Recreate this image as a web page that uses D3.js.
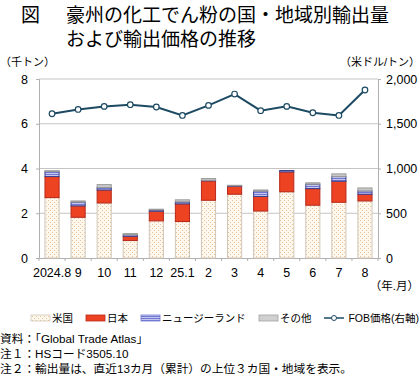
<!DOCTYPE html>
<html>
<head>
<meta charset="utf-8">
<script src="https://d3js.org/d3.v7.min.js"></script>
<style>
  body { margin: 0; background: #fff; }
  svg text { font-family: "Liberation Sans", "Noto Sans CJK JP", sans-serif; fill: #000; }
</style>
</head>
<body>
<div id="chart"></div>
<script>
// data (thousand tons / USD per ton)
const months = ["2024.8", "9", "10", "11", "12", "25.1", "2", "3", "4", "5", "6", "7", "8"];
const usa   = [2.70, 1.82, 2.46, 0.78, 1.66, 1.63, 2.58, 2.85, 2.10, 2.96, 2.36, 2.49, 2.55];
const japan = [0.94, 0.51, 0.58, 0.19, 0.43, 0.79, 0.87, 0.36, 0.65, 0.89, 0.74, 0.94, 0.30];
const nz    = [0.23, 0.17, 0.11, 0.07, 0.06, 0.09, 0.02, 0.02, 0.24, 0.06, 0.20, 0.21, 0.15];
const other = [0.03, 0.05, 0.13, 0.05, 0.03, 0.09, 0.08, 0.02, 0.05, 0.00, 0.06, 0.12, 0.13];
const fob   = [1612, 1660, 1694, 1713, 1687, 1593, 1705, 1832, 1646, 1694, 1623, 1593, 1877];
const leftTicks = [0, 2, 4, 6, 8];
const rightTicks = [0, 500, 1000, 1500, 2000];

const series = [
  { key: "米国", values: usa, fill: "url(#patUS)", stroke: "#cfc6ba" },
  { key: "日本", values: japan, fill: "#ee4322", stroke: "#b8281a" },
  { key: "ニュージーランド", values: nz, fill: "url(#patNZ)", stroke: "#39418f" },
  { key: "その他", values: other, fill: "#c8c8c8", stroke: "#9a9a9a" }
];

const W = 420, H = 378;
const svg = d3.select("#chart").append("svg").attr("width", W).attr("height", H);

const defs = svg.append("defs");
const pUS = defs.append("pattern").attr("id", "patUS").attr("patternUnits", "userSpaceOnUse")
  .attr("width", 4).attr("height", 4);
pUS.append("rect").attr("width", 4).attr("height", 4).attr("fill", "#fef8ef");
pUS.append("rect").attr("x", 0).attr("y", 0).attr("width", 1).attr("height", 1).attr("fill", "#ecc193");
pUS.append("rect").attr("x", 2).attr("y", 2).attr("width", 1).attr("height", 1).attr("fill", "#ecc193");
const pNZ = defs.append("pattern").attr("id", "patNZ").attr("patternUnits", "userSpaceOnUse")
  .attr("width", 2).attr("height", 2);
pNZ.append("rect").attr("width", 2).attr("height", 2).attr("fill", "#c4c6f0");
pNZ.append("rect").attr("width", 2).attr("height", 1).attr("fill", "#7378d0");

const plotL = 39, plotR = 378, plotT = 79, plotB = 258;
const x = d3.scaleBand().domain(months).range([plotL, plotR]).paddingInner(0.42).paddingOuter(0.21);
const y = d3.scaleLinear().domain([0, 8]).range([plotB, plotT]);
const y2 = d3.scaleLinear().domain([0, 2000]).range([plotB, plotT]);

// title
svg.append("text").attr("x", 21).attr("y", 22).attr("font-size", 19).text("図");
svg.append("text").attr("x", 66).attr("y", 22).attr("font-size", 19).text("豪州の化工でん粉の国・地域別輸出量");
svg.append("text").attr("x", 66).attr("y", 46).attr("font-size", 19).text("および輸出価格の推移");

// unit labels
svg.append("text").attr("x", 0).attr("y", 66).attr("font-size", 11).text("（千トン）");
svg.append("text").attr("x", 420).attr("y", 66).attr("font-size", 11).attr("text-anchor", "end").text("（米ドル/トン）");

// gridlines
svg.append("g").selectAll("line").data(leftTicks.filter(d => d > 0)).join("line")
  .attr("x1", plotL).attr("x2", plotR)
  .attr("y1", d => y(d)).attr("y2", d => y(d))
  .attr("stroke", "#c4c4c4").attr("stroke-width", 1);

// axes
const axL = svg.append("g").attr("transform", `translate(${plotL},0)`)
  .call(d3.axisLeft(y).tickValues(leftTicks).tickSize(3).tickPadding(8).tickFormat(d3.format("d")));
const axR = svg.append("g").attr("transform", `translate(${plotR},0)`)
  .call(d3.axisRight(y2).tickValues(rightTicks).tickSize(3).tickPadding(5).tickFormat(d3.format(",")));
[axL, axR].forEach(a => {
  a.select(".domain").attr("stroke", "#b0b0b0");
  a.selectAll(".tick line").attr("stroke", "#b0b0b0");
  a.selectAll("text").attr("font-size", 12.5);
});

const axB = svg.append("g").attr("transform", `translate(0,${plotB})`)
  .call(d3.axisBottom(x).tickSize(0).tickPadding(10));
axB.select(".domain").attr("stroke", "#b0b0b0");
axB.selectAll("text").attr("font-size", 12.5);
// band boundary ticks
const bounds = d3.range(months.length + 1).map(i => plotL + i * (plotR - plotL) / months.length);
svg.append("g").selectAll("line").data(bounds).join("line")
  .attr("x1", d => d).attr("x2", d => d).attr("y1", plotB).attr("y2", plotB + 3)
  .attr("stroke", "#b0b0b0");

svg.append("text").attr("x", 419).attr("y", 290).attr("font-size", 11.5).attr("text-anchor", "end").text("（年.月）");

// stacked bars
const table = months.map((m, i) => {
  const o = { month: m };
  series.forEach(s => { o[s.key] = s.values[i]; });
  return o;
});
const stacked = d3.stack().keys(series.map(s => s.key))(table);
svg.append("g").selectAll("g").data(stacked).join("g")
  .each(function(layer, li) {
    d3.select(this).selectAll("rect").data(layer.filter(d => d[1] > d[0])).join("rect")
      .attr("x", d => x(d.data.month) + 0.5)
      .attr("width", x.bandwidth() - 1)
      .attr("y", d => y(d[1]))
      .attr("height", d => Math.max(0, y(d[0]) - y(d[1])))
      .attr("fill", series[li].fill)
      .attr("stroke", series[li].stroke)
      .attr("stroke-width", 1);
  });

// price line
const line = d3.line().x((d, i) => x(months[i]) + x.bandwidth() / 2).y(d => y2(d));
svg.append("path").datum(fob).attr("d", line)
  .attr("fill", "none").attr("stroke", "#1d4a63").attr("stroke-width", 2);
svg.append("g").selectAll("circle").data(fob).join("circle")
  .attr("cx", (d, i) => x(months[i]) + x.bandwidth() / 2)
  .attr("cy", d => y2(d)).attr("r", 2.8)
  .attr("fill", "#fff").attr("stroke", "#1d4a63").attr("stroke-width", 1.2);

// legend
const ly = 318, lfs = 10.5;
const legend = [
  { label: "米国", x: 31, fill: "url(#patUS)", stroke: "#cfc6ba" },
  { label: "日本", x: 86, fill: "#ee4322", stroke: "#b8281a" },
  { label: "ニュージーランド", x: 141, fill: "url(#patNZ)", stroke: "#7378d0" },
  { label: "その他", x: 259, fill: "#d0d0d0", stroke: "#a0a0a0" }
];
legend.forEach(l => {
  svg.append("rect").attr("x", l.x).attr("y", ly - 3).attr("width", 19).attr("height", 6)
    .attr("fill", l.fill).attr("stroke", l.stroke).attr("stroke-width", 0.8);
  svg.append("text").attr("x", l.x + 21).attr("y", ly + 4).attr("font-size", lfs).text(l.label);
});
svg.append("line").attr("x1", 324).attr("x2", 344).attr("y1", ly).attr("y2", ly)
  .attr("stroke", "#1d4a63").attr("stroke-width", 1.5);
svg.append("circle").attr("cx", 334).attr("cy", ly).attr("r", 2.5)
  .attr("fill", "#fff").attr("stroke", "#1d4a63").attr("stroke-width", 1);
svg.append("text").attr("x", 419).attr("y", ly + 4).attr("font-size", lfs)
  .attr("text-anchor", "end").text("FOB価格(右軸)");

// notes
const notes = ["資料：「Global Trade Atlas」", "注１：HSコード3505.10", "注２：輸出量は、直近13カ月（累計）の上位３カ国・地域を表示。"];
svg.append("g").selectAll("text").data(notes).join("text")
  .attr("x", 0).attr("y", (d, i) => 343 + i * 15).attr("font-size", 11.7).text(d => d);
</script>
</body>
</html>
